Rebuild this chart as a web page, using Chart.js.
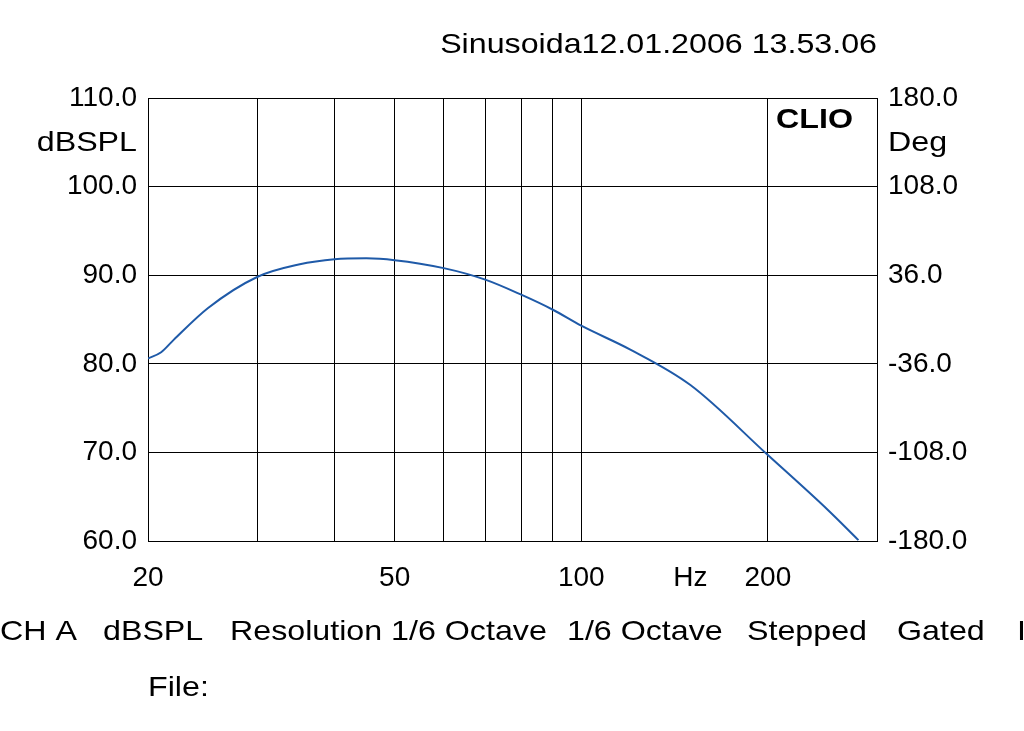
<!DOCTYPE html>
<html><head><meta charset="utf-8">
<script src="https://cdn.jsdelivr.net/npm/chart.js@4"></script>
<style>html,body{margin:0;background:#fff}#wrap{width:1024px;height:731px}</style>
</head><body><div id="wrap"><canvas id="c" width="1024" height="731"></canvas></div>
<script>
const freqs = [20, 21, 22, 25, 30, 35, 40, 45, 50, 60, 70, 80, 90, 100, 120, 150, 200, 250, 280];
const splValues = [80.6, 81.3, 82.7, 86.3, 89.8, 91.2, 91.8, 91.9, 91.7, 90.8, 89.5, 87.8, 86.1, 84.3, 81.6, 77.6, 69.7, 63.5, 60.1];
const xTicks = [20, 30, 40, 50, 60, 70, 80, 90, 100, 150, 200, 300];
const xLabels = { 20: '20', 50: '50', 100: '100', 150: 'Hz', 200: '200' };
const degTicks = [-180, -108, -36, 36, 108, 180];

const font = { family: 'Liberation Sans, Arial, sans-serif', size: 28 };

function stretched(ctx, text, x, y, align) {
    const k = 1.15;
    const w = ctx.measureText(text).width * k;
    const left = align === 'right' ? x - w : x;
    ctx.save();
    ctx.translate(left, y);
    ctx.scale(k, 1);
    ctx.textAlign = 'left';
    ctx.fillText(text, 0, 0);
    ctx.restore();
}

const textPlugin = {
    id: 'texts',
    afterDraw(chart) {
        const ctx = chart.ctx;
        ctx.save();
        ctx.fillStyle = '#000';
        ctx.font = '28px Liberation Sans, Arial, sans-serif';
        ctx.textBaseline = 'middle';
        stretched(ctx, 'dBSPL', 137, 143, 'right');
        stretched(ctx, 'Deg', 888, 143, 'left');
        stretched(ctx, 'Sinusoida12.01.2006 13.53.06', 877, 45, 'right');
        const bottom = [['CH A', 0], ['dBSPL', 103], ['Resolution 1/6 Octave', 230], ['1/6 Octave', 567], ['Stepped', 747], ['Gated', 897], ['I', 1017]];
        bottom.forEach(([t, x]) => stretched(ctx, t, x, 632, 'left'));
        stretched(ctx, 'File:', 148, 688, 'left');
        ctx.font = 'bold 28px Liberation Sans, Arial, sans-serif';
        stretched(ctx, 'CLIO', 853, 120, 'right');
        ctx.restore();
    }
};

new Chart(document.getElementById('c'), {
    type: 'line',
    data: {
        datasets: [{
            data: freqs.map((f, i) => ({ x: f, y: splValues[i] })),
            borderColor: '#1f5aa8',
            borderWidth: 2,
            pointRadius: 0,
            cubicInterpolationMode: 'monotone',
            fill: false,
        }]
    },
    options: {
        responsive: false,
        animation: false,
        layout: { padding: { top: 98, left: 0, right: 0, bottom: 0 } },
        plugins: { legend: { display: false }, tooltip: { enabled: false } },
        scales: {
            x: {
                type: 'logarithmic', min: 20, max: 300,
                afterBuildTicks: s => { s.ticks = xTicks.map(v => ({ value: v })); },
                afterFit: s => { s.height = 190; },
                ticks: { color: '#000', font, padding: 20, autoSkip: false, maxRotation: 0,
                    callback: v => xLabels[v] || '' },
                grid: { color: c => (c.tick && (c.tick.value === 150)) ? 'rgba(0,0,0,0)' : '#000',
                    drawTicks: false, lineWidth: 1 },
                border: { color: '#000', width: 1 }
            },
            y: {
                min: 60, max: 110,
                afterFit: s => { s.width = 148; },
                ticks: { stepSize: 10, color: '#000', font, padding: 11, callback: v => v.toFixed(1) },
                grid: { color: '#000', drawTicks: false },
                border: { color: '#000' }
            },
            y2: {
                position: 'right', min: -180, max: 180,
                afterBuildTicks: s => { s.ticks = degTicks.map(v => ({ value: v })); },
                afterFit: s => { s.width = 147; },
                ticks: { color: '#000', font, padding: 11, callback: v => v.toFixed(1) },
                grid: { display: false, drawTicks: false },
                border: { color: '#000' }
            }
        }
    },
    plugins: [textPlugin]
});
</script></body></html>
